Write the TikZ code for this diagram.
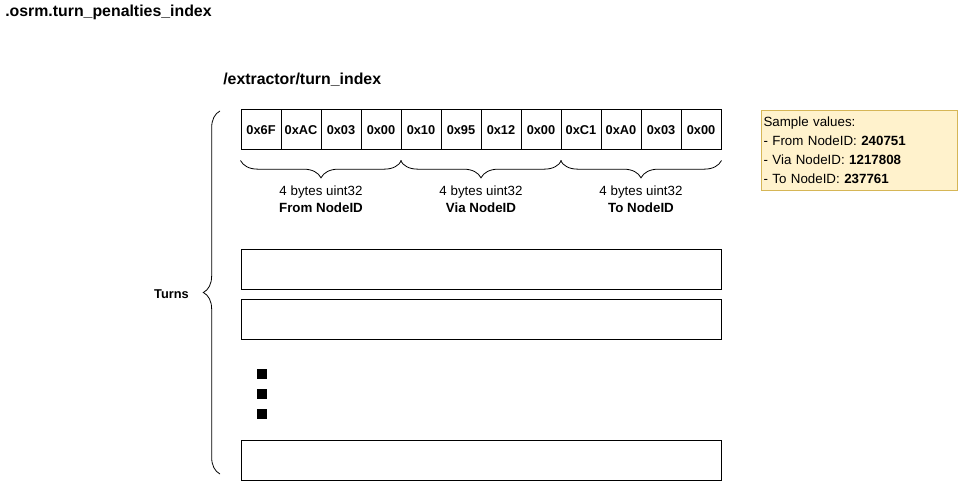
\documentclass[tikz,border=0pt]{standalone}
\usepackage{fontspec}
\setmainfont{Liberation Sans}
\usetikzlibrary{decorations.pathreplacing}
\definecolor{noteFill}{HTML}{FFF2CC}
\definecolor{noteLine}{HTML}{D6B656}
\tikzset{
	cell/.style = {draw, line width = 0.75pt, minimum width = 30pt, minimum height = 30pt, inner sep = 0pt, font = \fontsize{9.6}{11}\selectfont\bfseries},
	turnbox/.style = {draw, line width = 0.75pt, minimum width = 360pt, minimum height = 30pt, inner sep = 0pt},
	curly/.style = {decorate, decoration = {brace, amplitude = #1}, line width = 0.6pt},
	bracelabel/.style = {align = center, font = \fontsize{10}{12.75}\selectfont},
	dotsq/.style = {fill = black, minimum size = 7.5pt, inner sep = 0pt}
}
\begin{document}
\begin{tikzpicture}[x = 0.75pt, y = -0.75pt]
		\useasboundingbox (0, 0) rectangle (958, 481);
		% titles
		\node[anchor = west, inner sep = 0pt, font = \fontsize{11.9}{14}\selectfont\bfseries] (file) at (5, 12) {.osrm.turn\_penalties\_index};
		\node[anchor = west, inner sep = 0pt, font = \fontsize{11.9}{14}\selectfont\bfseries] (path) at (223, 80) {/extractor/turn\_index};
		%%%%%%%%%
		\foreach \b [count = \i] in {0x6F, 0xAC, 0x03, 0x00, 0x10, 0x95, 0x12, 0x00, 0xC1, 0xA0, 0x03, 0x00}
			\node[cell] (c\i) at (221 + 40*\i, 130) {\b};
		%%%%%%%%%
		\draw[curly = 13pt, decoration = {mirror}] ([yshift = -7.5pt]c1.south west) -- ([yshift = -7.5pt]c4.south east);
		\draw[curly = 13pt, decoration = {mirror}] ([yshift = -7.5pt]c5.south west) -- ([yshift = -7.5pt]c8.south east);
		\draw[curly = 13pt, decoration = {mirror}] ([yshift = -7.5pt]c9.south west) -- ([yshift = -7.5pt]c12.south east);
		\node[bracelabel] (from) at (321, 199.5) {4 bytes uint32\\\textbf{From NodeID}};
		\node[bracelabel] (via) at (481, 199.5) {4 bytes uint32\\\textbf{Via NodeID}};
		\node[bracelabel] (to) at (641, 199.5) {4 bytes uint32\\\textbf{To NodeID}};
		%%%%%%%%%
		\node[draw = noteLine, fill = noteFill, line width = 0.75pt, anchor = north west, minimum height = 60pt, text width = 144pt, inner xsep = 1.5pt, inner ysep = 0pt, align = left, font = \fontsize{10}{14.25}\selectfont] (sample) at (761, 110)
			{Sample values:\\- From NodeID: \textbf{240751}\\- Via NodeID: \textbf{1217808}\\- To NodeID: \textbf{237761}};
		%%%%%%%%%
		\node[turnbox] (t1) at (481, 270) {};
		\node[turnbox] (t2) at (481, 320) {};
		\node[dotsq] (d1) at (262, 374) {};
		\node[dotsq] (d2) at (262, 394) {};
		\node[dotsq] (d3) at (262, 414) {};
		\node[turnbox] (tn) at (481, 460) {};
		%%%%%%%%%
		\coordinate (top) at (220, 111);
		\coordinate (bot) at (220, 474);
		\draw[curly = 12.5pt] (bot) -- (top);
		\node[anchor = east, inner sep = 0pt, font = \fontsize{9.6}{11}\selectfont\bfseries] (turns) at (189, 294) {Turns};
	\end{tikzpicture}
\end{document}
